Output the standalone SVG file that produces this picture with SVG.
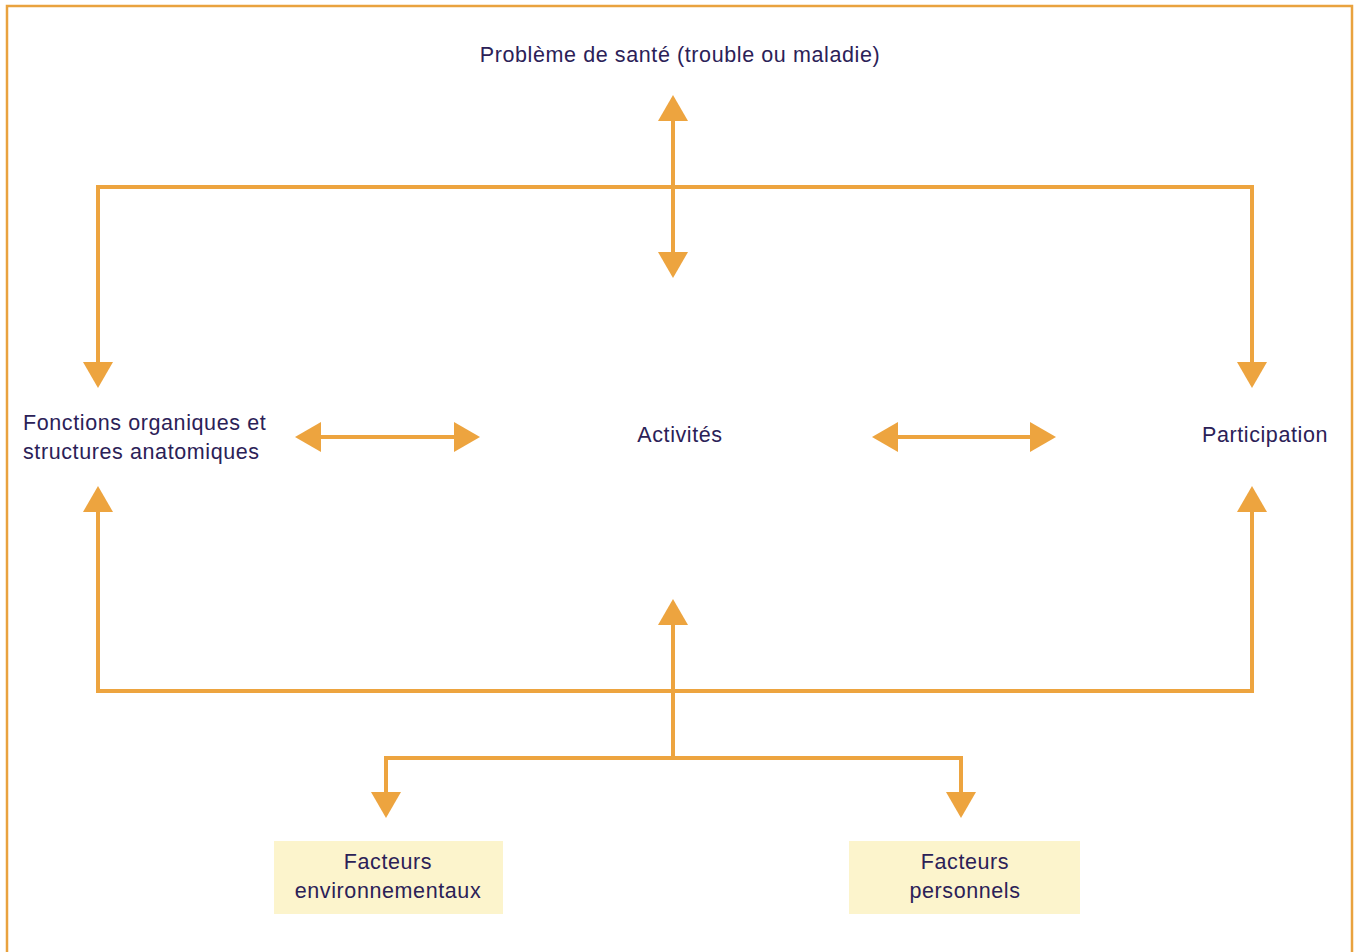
<svg xmlns="http://www.w3.org/2000/svg" width="1355" height="952" viewBox="0 0 1355 952">
<defs>
<style>
.c{fill:none;stroke:#EDA43F;stroke-width:4;stroke-linejoin:miter;}
.t{font-family:"Liberation Sans",Arial,sans-serif;font-size:21.5px;fill:#2B2157;letter-spacing:0.6px;}
.box{fill:#FCF4CC;}
</style>
<marker id="ah" viewBox="0 0 26 30" refX="6" refY="15" markerWidth="26" markerHeight="30" markerUnits="userSpaceOnUse" orient="auto-start-reverse">
<path d="M0,0 L26,15 L0,30 Z" fill="#EDA43F"/>
</marker>
</defs>
<rect width="1355" height="952" fill="#fff"/>
<path d="M7,960 L7,6 L1352,6 L1352,960" fill="none" stroke="#E9A23E" stroke-width="2.5"/>
<g id="connectors">
<line class="c" x1="673" y1="115" x2="673" y2="258" marker-start="url(#ah)" marker-end="url(#ah)"/>
<path class="c" d="M98,368 L98,187 L1252,187 L1252,368" marker-start="url(#ah)" marker-end="url(#ah)"/>
<line class="c" x1="315" y1="437" x2="460" y2="437" marker-start="url(#ah)" marker-end="url(#ah)"/>
<line class="c" x1="892" y1="437" x2="1036" y2="437" marker-start="url(#ah)" marker-end="url(#ah)"/>
<path class="c" d="M98,506 L98,691 L1252,691 L1252,506" marker-start="url(#ah)" marker-end="url(#ah)"/>
<line class="c" x1="673" y1="619" x2="673" y2="758" marker-start="url(#ah)"/>
<path class="c" d="M386,798 L386,758 L961,758 L961,798" marker-start="url(#ah)" marker-end="url(#ah)"/>
</g>
<g id="sante"><text class="t" x="680" y="62" text-anchor="middle">Problème de santé (trouble ou maladie)</text></g>
<g id="fonctions"><text class="t" x="23" y="430">Fonctions organiques et</text><text class="t" x="23" y="459">structures anatomiques</text></g>
<g id="activites"><text class="t" x="680" y="442" text-anchor="middle">Activités</text></g>
<g id="participation"><text class="t" x="1265" y="442" text-anchor="middle">Participation</text></g>
<g id="env"><rect class="box" x="274" y="841" width="229" height="73"/><text class="t" x="388" y="869" text-anchor="middle">Facteurs</text><text class="t" x="388" y="898" text-anchor="middle">environnementaux</text></g>
<g id="pers"><rect class="box" x="849" y="841" width="231" height="73"/><text class="t" x="965" y="869" text-anchor="middle">Facteurs</text><text class="t" x="965" y="898" text-anchor="middle">personnels</text></g>
</svg>
